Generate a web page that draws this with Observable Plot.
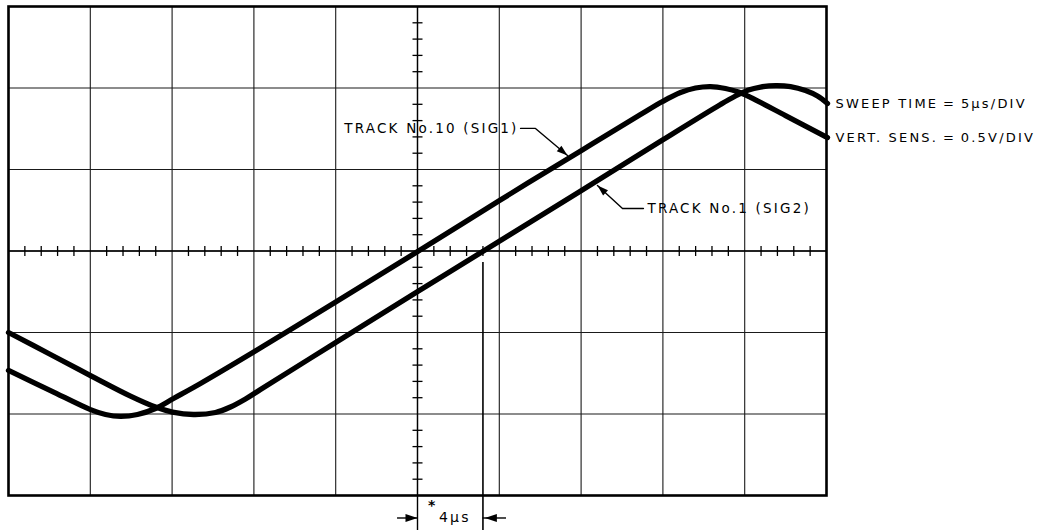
<!DOCTYPE html>
<html>
<head>
<meta charset="utf-8">
<script src="https://cdn.jsdelivr.net/npm/d3@7"></script>
<script src="https://cdn.jsdelivr.net/npm/@observablehq/plot@0.6"></script>
<style>
  body { margin: 0; background: #fff; }
  #chart svg { background: #fff; }
  #chart text { letter-spacing: 2.2px; }
</style>
</head>
<body>
<div id="chart"></div>
<script>
// ---- Data (time in µs, 5 µs/div; voltage in V, 0.5 V/div) ----
const sig1T = [0, 2.567, 5.012, 5.929, 6.846, 7.885, 8.985, 10.085, 11.736, 15.037, 20.049, 25.061, 30.012, 35.024, 38.631, 39.976, 41.076, 41.993, 42.91, 43.826, 44.621, 45.355, 47.494, 50.061];
const sig1V = [-0.733, -0.856, -0.973, -1.003, -1.015, -1.003, -0.966, -0.905, -0.813, -0.617, -0.31, 0, 0.31, 0.617, 0.837, 0.917, 0.972, 1.0, 1.009, 0.997, 0.975, 0.942, 0.831, 0.696];

const sig2T = [0, 2.567, 5.012, 7.457, 8.985, 10.024, 11.308, 12.653, 13.57, 14.487, 15.403, 20.049, 25.061, 29.034, 35.024, 39.976, 43.521, 44.438, 45.232, 45.966, 46.883, 47.8, 48.716, 49.45, 50.061];
const sig2V = [-0.5, -0.635, -0.764, -0.89, -0.957, -0.988, -1.003, -0.991, -0.957, -0.908, -0.85, -0.558, -0.245, 0, 0.371, 0.681, 0.899, 0.951, 0.988, 1.006, 1.015, 1.009, 0.985, 0.951, 0.905];

const gridT = [0, 5, 10, 15, 20, 25, 30, 35, 40, 45, 50];
const gridV = [-1.5, -1, -0.5, 0, 0.5, 1, 1.5];
const minorT = d3.range(1, 50, 1).filter(t => t % 5 !== 0);
const minorV = d3.range(-14, 15, 1).filter(k => k % 5 !== 0).map(k => k / 10);

const trackLabels = ["TRACK No.10 (SIG1)", "TRACK No.1 (SIG2)"];
const settingLabels = ["VERT. SENS.\u2009=\u20090.5V/DIV", "SWEEP TIME\u2009=\u20095μs/DIV"];
// leader paths (label end -> arrow tip), in data units
const leader1T = [31.30, 32.21, 34.17];
const leader1V = [0.752, 0.752, 0.586];
const leader2T = [38.81, 37.53, 36.00];
const leader2V = [0.261, 0.261, 0.402];

// 4 µs phase-difference marker
const markerT = [25, 29];
const markerTopV = -0.07;
const markerBottomV = -1.72;
const markerArrowV = -1.638;
const markerShaftT = [23.78, 30.44];
const markerText = "4μs";
const markerTextT = 26.31;
const starT = 26.22, starV = -1.59;

// ---- Layout ----
const W = 1038, H = 530;
const mL = 8, mR = 212, mT = 6, mB = 35;
const xDom = [0, 50], yDom = [-1.5, 1.5];
const pxT = (W - mL - mR) / (xDom[1] - xDom[0]);
const pxV = (H - mT - mB) / (yDom[1] - yDom[0]);

const toRows = (T, V) => T.map((t, i) => ({t, v: V[i]}));
const sig1 = toRows(sig1T, sig1V);
const sig2 = toRows(sig2T, sig2V);
const leader1 = toRows(leader1T, leader1V);
const leader2 = toRows(leader2T, leader2V);

// symbols
const vTick = {draw(c) { c.moveTo(0, -5); c.lineTo(0, 5); }};
const hTick = {draw(c) { c.moveTo(-5, 0); c.lineTo(5, 0); }};
function headSymbol(dx, dy, len = 11, half = 3.6) {
  const n = Math.hypot(dx, dy), ux = dx / n, uy = dy / n;
  const bx = -ux * len, by = -uy * len;
  const px = -uy * half, py = ux * half;
  return {draw(c) { c.moveTo(0, 0); c.lineTo(bx + px, by + py); c.lineTo(bx - px, by - py); c.closePath(); }};
}
function dirOf(rows) {
  const a = rows[rows.length - 2], b = rows[rows.length - 1];
  return [(b.t - a.t) * pxT, -(b.v - a.v) * pxV];
}
const h1 = headSymbol(...dirOf(leader1));
const h2 = headSymbol(...dirOf(leader2));
const hRight = headSymbol(1, 0, 12, 4);
const hLeft = headSymbol(-1, 0, 12, 4);

const font = "DejaVu Sans";
const last1 = sig1[sig1.length - 1], last2 = sig2[sig2.length - 1];

const chart = Plot.plot({
  width: W, height: H,
  marginLeft: mL, marginRight: mR, marginTop: mT, marginBottom: mB,
  x: {domain: xDom, axis: null},
  y: {domain: yDom, axis: null},
  style: {background: "#fff", color: "#000"},
  marks: [
    Plot.ruleX(gridT, {x: d => d, stroke: "#1a1a1a", strokeWidth: 1.1}),
    Plot.ruleY(gridV, {y: d => d, stroke: "#1a1a1a", strokeWidth: 1.1}),
    Plot.ruleY([0], {y: d => d, stroke: "#000", strokeWidth: 1.4}),
    Plot.ruleX([25], {x: d => d, stroke: "#000", strokeWidth: 1.4}),
    Plot.dot(minorT, {x: d => d, y: () => 0, symbol: vTick, stroke: "#000", strokeWidth: 1.3, fill: "none"}),
    Plot.dot(minorV, {x: () => 25, y: d => d, symbol: hTick, stroke: "#000", strokeWidth: 1.3, fill: "none"}),
    // marker lines
    Plot.ruleX([markerT[0]], {x: d => d, y1: yDom[0], y2: markerBottomV, stroke: "#000", strokeWidth: 1.4}),
    Plot.ruleX([markerT[1]], {x: d => d, y1: markerTopV, y2: markerBottomV, stroke: "#000", strokeWidth: 1.6}),
    Plot.frame({stroke: "#000", strokeWidth: 2.6}),
    // traces
    Plot.line(sig1, {x: "t", y: "v", stroke: "#000", strokeWidth: 5.3, curve: "catmull-rom"}),
    Plot.line(sig2, {x: "t", y: "v", stroke: "#000", strokeWidth: 5.3, curve: "catmull-rom"}),
    // leaders
    Plot.line(leader1, {x: "t", y: "v", stroke: "#000", strokeWidth: 1.4}),
    Plot.line(leader2, {x: "t", y: "v", stroke: "#000", strokeWidth: 1.4}),
    Plot.dot([leader1[2]], {x: "t", y: "v", symbol: h1, fill: "#000", stroke: "none"}),
    Plot.dot([leader2[2]], {x: "t", y: "v", symbol: h2, fill: "#000", stroke: "none"}),
    Plot.text([leader1[0]], {x: "t", y: "v", text: () => trackLabels[0], textAnchor: "end", dx: -2, fontFamily: font, fontSize: 13.5, fill: "#000"}),
    Plot.text([leader2[0]], {x: "t", y: "v", text: () => trackLabels[1], textAnchor: "start", dx: 4, fontFamily: font, fontSize: 13.5, fill: "#000"}),
    // settings labels at trace ends
    Plot.text([last1, last2], {x: "t", y: "v", text: (d, i) => settingLabels[i], textAnchor: "start", dx: 8, fontFamily: font, fontSize: 13, fill: "#000"}),
    // 4 µs arrows
    Plot.ruleY([markerArrowV], {y: d => d, x1: markerShaftT[0], x2: markerT[0], stroke: "#000", strokeWidth: 1.4}),
    Plot.ruleY([markerArrowV], {y: d => d, x1: markerT[1], x2: markerShaftT[1], stroke: "#000", strokeWidth: 1.4}),
    Plot.dot([markerArrowV], {x: () => markerT[0], y: d => d, symbol: hRight, fill: "#000", stroke: "none"}),
    Plot.dot([markerArrowV], {x: () => markerT[1] + 0.12, y: d => d, symbol: hLeft, fill: "#000", stroke: "none"}),
    Plot.text([markerArrowV], {x: () => markerTextT, y: d => d, text: () => markerText, textAnchor: "start", fontFamily: font, fontSize: 14, fill: "#000"}),
    Plot.text([starV], {x: () => starT, y: d => d, text: () => "*", textAnchor: "end", lineAnchor: "bottom", fontFamily: font, fontSize: 14, fontWeight: "bold", fill: "#000"})
  ]
});
chart.setAttribute("overflow", "visible");
document.getElementById("chart").appendChild(chart);
</script>
</body>
</html>
